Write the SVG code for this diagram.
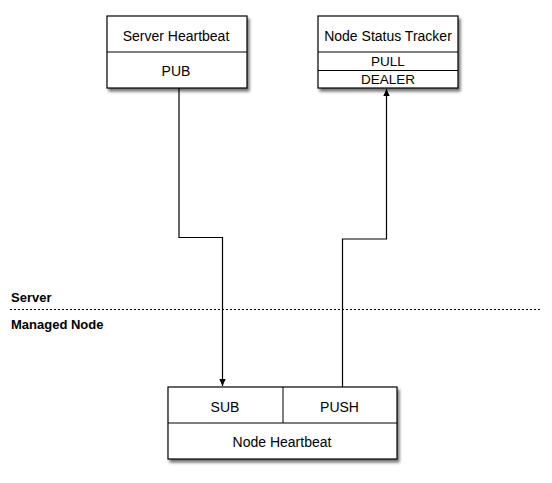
<svg xmlns="http://www.w3.org/2000/svg" width="552" height="483" viewBox="0 0 552 483">
<defs>
<filter id="sh" x="-10%" y="-10%" width="130%" height="140%">
<feGaussianBlur in="SourceAlpha" stdDeviation="1.8"/>
<feOffset dx="2" dy="3" result="b"/>
<feComponentTransfer><feFuncA type="linear" slope="0.55"/></feComponentTransfer>
<feMerge><feMergeNode/><feMergeNode in="SourceGraphic"/></feMerge>
</filter>
<marker id="arr" markerWidth="8" markerHeight="8" refX="7" refY="4" orient="auto" markerUnits="userSpaceOnUse">
<path d="M0,0.8 L7,4 L0,7.2 Z" fill="#000"/>
</marker>
</defs>
<style>
.box{fill:#fff;stroke:#000;stroke-width:1.2}
.ln{stroke:#000;stroke-width:1}
.t{font-family:"Liberation Sans",Arial,sans-serif;font-size:14px;fill:#000;text-anchor:middle}
.ts{font-family:"Liberation Sans",Arial,sans-serif;font-size:13.5px;fill:#000;text-anchor:middle}
.lab{font-family:"Liberation Sans",Arial,sans-serif;font-size:13px;font-weight:bold;fill:#000}
.con{fill:none;stroke:#000;stroke-width:1.2}
</style>
<rect width="552" height="483" fill="#fff"/>
<g id="boundary">
<line x1="10" y1="309.5" x2="541" y2="309.5" stroke="#000" stroke-width="1" stroke-dasharray="2,2"/>
<text class="lab" x="11" y="302">Server</text>
<text class="lab" x="11" y="329">Managed Node</text>
</g>
<g id="server-heartbeat">
<rect class="box" x="107" y="16" width="140" height="72" filter="url(#sh)"/>
<line class="ln" x1="107" y1="52" x2="247" y2="52"/>
<text class="t" x="176" y="41">Server Heartbeat</text>
<text class="t" x="176" y="76">PUB</text>
</g>
<g id="node-status-tracker">
<rect class="box" x="318" y="16" width="140" height="72" filter="url(#sh)"/>
<line class="ln" x1="318" y1="52" x2="458" y2="52"/>
<line class="ln" x1="318" y1="70.5" x2="458" y2="70.5"/>
<text class="t" x="388" y="41">Node Status Tracker</text>
<text class="ts" x="388" y="66">PULL</text>
<text class="ts" x="388" y="84">DEALER</text>
</g>
<g id="node-heartbeat">
<rect class="box" x="168" y="387" width="229" height="72" filter="url(#sh)"/>
<line class="ln" x1="168" y1="423" x2="397" y2="423"/>
<line class="ln" x1="283" y1="387" x2="283" y2="423"/>
<text class="t" x="225" y="411.5">SUB</text>
<text class="t" x="339.5" y="411.5">PUSH</text>
<text class="t" x="282" y="446.5">Node Heartbeat</text>
</g>
<g id="connectors">
<path class="con" d="M179,88 V237.5 H222.5 V386" marker-end="url(#arr)"/>
<path class="con" d="M342.5,387 V239 H386.5 V89" marker-end="url(#arr)"/>
</g>
</svg>
